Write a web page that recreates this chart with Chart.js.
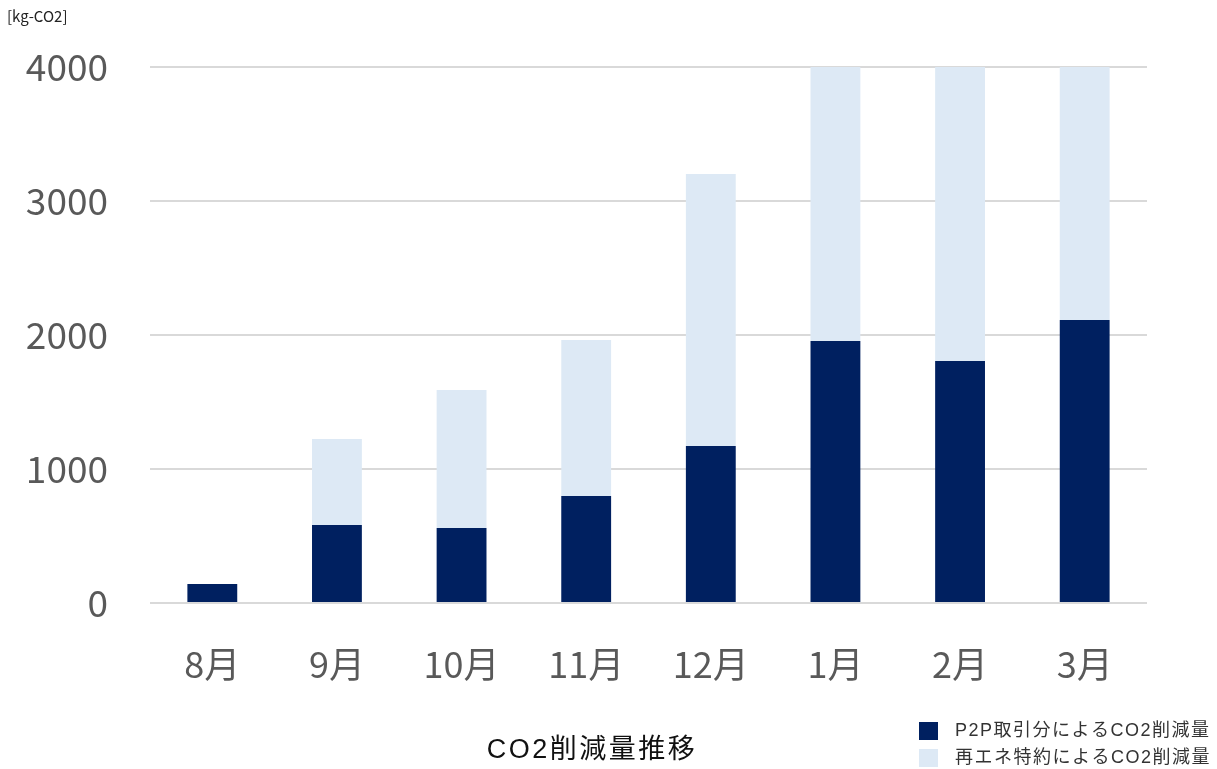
<!DOCTYPE html>
<html>
<head>
<meta charset="utf-8">
<script src="https://cdn.jsdelivr.net/npm/chart.js@4"></script>
<style>
  html, body { margin: 0; padding: 0; background: #fff; }
  canvas { display: block; }
</style>
</head>
<body>
<canvas id="chart" width="1217" height="769"></canvas>
<script>
const months = ['8月', '9月', '10月', '11月', '12月', '1月', '2月', '3月']
const p2pValues = [142, 582, 560, 799, 1172, 1955, 1806, 2112]
const renewValues = [0, 642, 1030, 1164, 2030, 2045, 2194, 1888]
const yTicks = [0, 1000, 2000, 3000, 4000]

const seriesNames = ['P2P取引分によるCO2削減量', '再エネ特約によるCO2削減量']
const chartTitle = 'CO2削減量推移'
const unitLabel = '[kg-CO2]'

const darkBlue = '#002060'
const lightBlue = '#dde9f5'
const font = '"Noto Sans CJK JP", "Noto Sans", sans-serif'
const textFont = '"Liberation Sans", "Noto Sans CJK JP", sans-serif'

// unit label, title and the stacked legend in the bottom right
const extras = {
  id: 'extras',
  afterDraw(chart) {
    const ctx = chart.ctx
    ctx.save()
    ctx.textBaseline = 'middle'

    ctx.fillStyle = '#222'
    ctx.font = '15px ' + font
    ctx.textAlign = 'left'
    ctx.fillText(unitLabel, 7, 16)

    ctx.font = '27px ' + textFont
    ctx.letterSpacing = '2.5px'
    ctx.textAlign = 'center'
    ctx.fillStyle = '#111'
    ctx.fillText(chartTitle, 592, 751)

    ctx.font = '18px ' + textFont
    ctx.letterSpacing = '1.5px'
    ctx.textAlign = 'left'
    const colors = [darkBlue, lightBlue]
    seriesNames.forEach((name, i) => {
      const y = 731 + i * 27
      ctx.fillStyle = colors[i]
      ctx.fillRect(919, y - 9, 19, 18)
      ctx.fillStyle = '#333'
      ctx.fillText(name, 955, y)
    })
    ctx.restore()
  }
}

new Chart(document.getElementById('chart'), {
  type: 'bar',
  data: {
    labels: months,
    datasets: [
      { label: seriesNames[0], data: p2pValues, backgroundColor: darkBlue },
      { label: seriesNames[1], data: renewValues, backgroundColor: lightBlue }
    ]
  },
  options: {
    responsive: false,
    animation: false,
    events: [],
    layout: { padding: { top: 67, right: 70, bottom: 66, left: 0 } },
    categoryPercentage: 1,
    barPercentage: 0.4,
    plugins: {
      legend: { display: false },
      tooltip: { enabled: false }
    },
    scales: {
      x: {
        stacked: true,
        grid: { display: false, drawTicks: false },
        border: { display: false },
        ticks: { color: '#595959', font: { size: 36, family: font }, padding: 40 },
        afterFit: s => { s.height = 100 }
      },
      y: {
        stacked: true,
        min: 0,
        max: 4000,
        afterBuildTicks: s => { s.ticks = yTicks.map(v => ({ value: v })) },
        grid: { color: '#d9d9d9', lineWidth: 2, drawTicks: false },
        border: { display: false },
        ticks: {
          color: '#595959',
          font: { size: 37, family: font },
          padding: 42,
          callback: v => String(v)
        },
        afterFit: s => { s.width = 150 }
      }
    }
  },
  plugins: [extras]
})
</script>
</body>
</html>
